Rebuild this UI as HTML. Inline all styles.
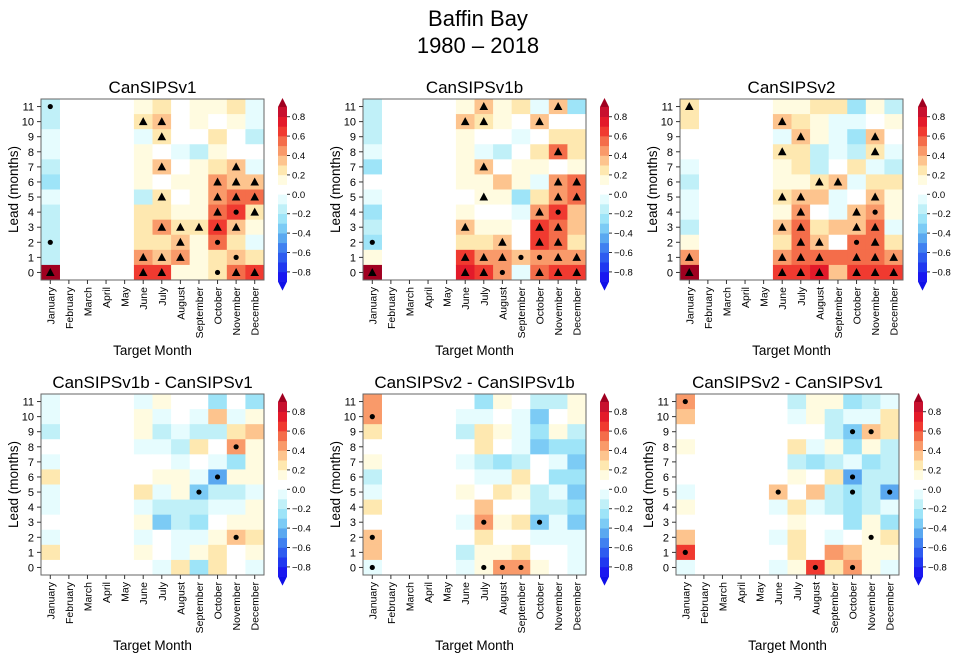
<!DOCTYPE html>
<html><head><meta charset="utf-8">
<style>
body{margin:0;background:#fff;width:957px;height:658px;overflow:hidden}
svg{display:block;font-family:"Liberation Sans","DejaVu Sans",sans-serif}
</style></head>
<body>
<svg id="fig" width="957" height="658" xmlns="http://www.w3.org/2000/svg">
<text x="478" y="26" text-anchor="middle" font-size="22">Baffin Bay</text>
<text x="478" y="53" text-anchor="middle" font-size="22">1980 – 2018</text>
</svg>
<script>
const months = ["January","February","March","April","May","June","July","August","September","October","November","December"];
const dataCols = [0,5,6,7,8,9,10,11];
const leads = [0,1,2,3,4,5,6,7,8,9,10,11];
const cbTicks = [-0.8,-0.6,-0.4,-0.2,0.0,0.2,0.4,0.6,0.8];
const panelTitles = ["CanSIPSv1","CanSIPSv1b","CanSIPSv2","CanSIPSv1b - CanSIPSv1","CanSIPSv2 - CanSIPSv1b","CanSIPSv2 - CanSIPSv1"];
// values rows from lead 11 (top) down to lead 0; columns Jan, Jun..Dec
const p1Values = [
[-0.15,0.15,0.25,0,0.1,0.1,0.25,-0.05],
[-0.2,0.25,0.3,0,0.1,0,0.1,-0.1],
[-0.05,-0.1,0.25,0,0,0.25,0,-0.2],
[-0.05,0.1,0,-0.1,-0.2,0.1,0,0],
[-0.15,0.1,0.3,0,0.1,0.25,0.3,-0.05],
[-0.25,0.1,0,0.1,0.1,0.45,0.35,0.35],
[-0.05,-0.2,0.2,0,0.1,0.45,0.55,0.55],
[-0.15,0.2,0.2,0.1,0.1,0.55,0.65,0.25],
[-0.2,0.2,0.4,0.25,0.25,0.65,0.35,0.1],
[-0.15,0.2,0.2,0.35,0.1,0.55,0.2,-0.1],
[-0.15,0.4,0.35,0.4,0.1,0.2,0.35,0.25],
[0.95,0.65,0.65,0.1,0.1,0.2,0.5,0.65]];
const p1Marks = ["d.......",".tt.....","..t.....","........","..t...t.",".....ttt","..t..ttt",".....tdt","..ttttt.","d..t.d..",".ttt..d.","ttt..dtt"];
const p2Values = [
[-0.2,0.1,0.3,0.1,0.25,-0.05,0.35,-0.3],
[-0.2,0.3,0.2,0.1,0,0.3,0,0],
[-0.2,0.1,0,0,-0.05,0,0.2,0.2],
[-0.05,0.1,-0.1,-0.2,0,0.25,0.55,0.2],
[-0.25,0.1,0.35,0,0.1,0.1,0,0.1],
[0,0.1,0.1,0.35,0.1,-0.05,0.45,0.55],
[-0.05,0,0.15,0.1,-0.3,0.25,0.45,0.55],
[-0.25,0.1,0,0,-0.05,0.45,0.65,0.35],
[-0.2,0.35,0.1,0.1,0,0.65,0.55,0.35],
[-0.25,0.2,0.2,0.35,0,0.65,0.55,0.2],
[0.1,0.65,0.45,0.45,0.3,0.45,0.45,0.45],
[0.95,0.75,0.65,0.4,-0.05,0.55,0.65,0.65]];
const p2Marks = ["..t...t.",".tt..t..","........","......t.","..t.....","......tt","..t...tt",".....td.",".t...tt.","d..t.tt.",".tttddtt","tttd.ttt"];
const p3Values = [
[0.25,0.1,0.1,0.2,0.2,-0.25,0.1,-0.2],
[0.25,0.35,0.2,0.1,-0.05,-0.05,0,0.1],
[0,-0.05,0.35,0.1,-0.05,-0.25,0.35,0],
[0,0.25,0.2,-0.2,-0.05,-0.2,0.2,-0.05],
[-0.05,0.1,0.2,-0.2,0,0.2,-0.05,-0.2],
[-0.2,0.1,0.1,0.25,0.35,-0.05,0.2,0.2],
[-0.05,0.25,0.35,0.35,-0.05,0,0.35,0.1],
[-0.05,0.1,0.45,0,-0.05,0.3,0.45,0.1],
[-0.2,0.35,0.55,0.2,0.3,0.35,0.55,-0.05],
[0.1,0.25,0.55,0.35,0,0.55,0.55,0.25],
[0.4,0.45,0.55,0.55,0.55,0.55,0.55,0.45],
[0.95,0.65,0.65,0.75,0.3,0.65,0.65,0.65]];
const p3Marks = ["t.......",".t......","..t...t.",".t....t.","........","...tt...",".tt...t.","..t..td.",".tt..tt.","..tt.dt.","tttt.ttt","tttt.ttt"];
const p4Values = [
[-0.1,-0.1,0.1,0,0,-0.25,0,-0.25],
[-0.1,0.1,-0.05,0,-0.05,0.3,-0.05,0.1],
[-0.2,0.1,-0.2,-0.05,-0.15,-0.15,0.2,0.3],
[0,-0.05,-0.05,-0.2,0.2,0,0.45,0.1],
[-0.05,0,0,-0.05,0,-0.05,-0.3,0.1],
[0.2,0,0.1,0.1,-0.05,-0.5,0.1,0.1],
[-0.05,0.2,-0.05,0.1,-0.35,-0.2,-0.15,-0.05],
[-0.05,-0.05,-0.15,-0.15,-0.15,-0.05,-0.05,0.1],
[0,0.1,-0.35,-0.15,-0.25,0,0.1,0.1],
[-0.05,-0.05,0,-0.05,-0.05,0.1,0.3,0.2],
[0.2,0.1,0,-0.05,0.1,0.2,0,0.1],
[0,0,-0.1,0.2,-0.25,0.2,0,-0.05]];
const p4Marks = ["........","........","........","......d.","........",".....d..","....d...","........","........","......d.","........","........"];
const p5Values = [
[0.4,0,-0.25,0.1,0,-0.15,-0.2,0.1],
[0.4,-0.05,-0.05,0,-0.05,-0.35,0,0.1],
[0.25,-0.15,0.2,0.1,-0.05,-0.25,0.1,-0.15],
[0,0,0.2,0,-0.05,-0.4,-0.25,-0.25],
[0.1,-0.05,-0.15,-0.25,-0.15,0,-0.05,-0.35],
[-0.15,0,-0.05,-0.05,0.25,0,-0.25,-0.25],
[-0.05,0.1,0,0.25,0.1,-0.2,-0.05,-0.35],
[0.25,0,0.3,0,0,-0.2,-0.2,-0.25],
[0,-0.05,0.4,0.1,0.25,-0.35,-0.05,-0.35],
[0.3,0,0.25,0,0,-0.05,-0.05,-0.05],
[0.3,-0.2,0.1,0.1,0.25,0,0,-0.05],
[-0.05,-0.05,0.1,0.45,0.45,0.1,0,-0.05]];
const p5Marks = ["........","d.......","........","........","........","........","........","........","..d..d..","d.......","........","d.ddd..."];
const p6Values = [
[0.4,0,-0.15,0.1,0.1,-0.3,-0.15,-0.05],
[0.3,0,-0.05,0.1,-0.15,-0.05,-0.05,0.25],
[0,0,0,0,-0.15,-0.4,0.35,0.2],
[0.1,0,0.25,-0.05,0.1,-0.3,0.1,-0.15],
[0,0,-0.15,-0.25,-0.15,-0.05,-0.3,-0.15],
[0,0,0.1,0,0.25,-0.5,-0.2,-0.15],
[-0.05,0.3,0,0.3,-0.2,-0.3,-0.15,-0.45],
[0.1,-0.05,0.25,-0.05,-0.2,-0.25,-0.2,-0.05],
[0,0,0.1,0,0,-0.25,0.1,-0.25],
[0.3,-0.05,0.25,0,-0.05,0,0.1,0.25],
[0.65,0,0.25,0,0.45,0.3,0.1,0.1],
[-0.05,-0.05,0.1,0.65,0.2,0.45,0.1,-0.05]];
const p6Marks = ["d.......","........",".....dd.","........","........",".....d..",".d...d.d","........","........","......d.","d.......","...d.d.."];

const allValues=[p1Values,p2Values,p3Values,p4Values,p5Values,p6Values];
const allMarks=[p1Marks,p2Marks,p3Marks,p4Marks,p5Marks,p6Marks];
const layout=[
 {x0:41,x1:264,y0:99,y1:280,cb:278},
 {x0:363,x1:586,y0:99,y1:280,cb:600},
 {x0:680,x1:903,y0:99,y1:280,cb:918},
 {x0:41,x1:264,y0:394,y1:575,cb:278},
 {x0:363,x1:586,y0:394,y1:575,cb:600},
 {x0:676,x1:899,y0:394,y1:575,cb:914}];
// band colors from -0.9 up to 0.9 (18 bands)
const bands=["#1a18f0","#2038f0","#2e5cf0","#4080f0","#5aa8f0","#7ccbf5","#9ee4f8","#c0f0f8","#e6fcfe","#ffffff","#fffbe0","#fee8b0","#fdc48e","#f99a6a","#f46d4a","#f03a30","#e31a2a","#c8102e"];
const overColor="#a00020", underColor="#1010e8";
function colorOf(v){const i=Math.floor(v*10+1e-6)+9; if(i>17)return overColor; if(i<0)return underColor; return bands[i];}

const NS="http://www.w3.org/2000/svg";
const svg=document.getElementById('fig');
function mk(tag,attrs,parent){const e=document.createElementNS(NS,tag);for(const k in attrs)e.setAttribute(k,attrs[k]);(parent||svg).appendChild(e);return e;}

layout.forEach((L,p)=>{
  const g=mk('g',{});
  
  
  const cw=(L.x1-L.x0)/12, ch=(L.y1-L.y0)/12;
  const xOf=m=>L.x0+m*cw;
  const yOf=l=>L.y1-(l+1)*ch;
  const vals=allValues[p], marks=allMarks[p];
  vals.forEach((row,ri)=>{
    const lead=11-ri;
    row.forEach((v,ci)=>{
      const m=dataCols[ci];
      const r=mk('rect',{x:xOf(m),y:yOf(lead),width:cw+0.4,height:ch+0.4,fill:colorOf(v)},g);
      
      
      const mkc=marks[ri][ci];
      const cx=xOf(m)+cw/2, cy=yOf(lead)+ch/2;
      if(mkc==='t'){
        const t=mk('polygon',{points:`${cx},${cy-4.5} ${cx-4.3},${cy+3.5} ${cx+4.3},${cy+3.5}`,fill:'#000'},g);
        
        
      } else if(mkc==='d'){
        const c=mk('circle',{cx:cx,cy:cy,r:2.6,fill:'#000'},g);
        
        
      }
    });
  });
  const fr=mk('rect',{x:L.x0,y:L.y0,width:L.x1-L.x0,height:L.y1-L.y0,fill:'none',stroke:'#666','stroke-width':1},g);
  
  
  const tt=mk('text',{x:(L.x0+L.x1)/2,y:L.y0-6,'text-anchor':'middle','font-size':17},g);
  tt.textContent=panelTitles[p];
  
  
  leads.forEach(l=>{
    const y=yOf(l)+ch/2;
    mk('line',{x1:L.x0-4,x2:L.x0,y1:y,y2:y,stroke:'#333'},g);
    const t=mk('text',{x:L.x0-7,y:y+4,'text-anchor':'end','font-size':11},g);
    t.textContent=l;
    
    
  });
  months.forEach((mn,m)=>{
    const x=xOf(m)+cw/2;
    mk('line',{x1:x,x2:x,y1:L.y1,y2:L.y1+4,stroke:'#333'},g);
    const t=mk('text',{x:0,y:0,'text-anchor':'end','font-size':10.5,transform:`translate(${x+4},${L.y1+7}) rotate(-90)`},g);
    t.textContent=mn;
    
    
  });
  const xt=mk('text',{x:(L.x0+L.x1)/2,y:L.y1+75,'text-anchor':'middle','font-size':13.5},g);
  xt.textContent='Target Month';
  
  
  const yt=mk('text',{x:0,y:0,'text-anchor':'middle','font-size':13.5,transform:`translate(${L.x0-23},${(L.y0+L.y1)/2}) rotate(-90)`},g);
  yt.textContent='Lead (months)';
  
  
  // colorbar
  const cg=mk('g',{},g);
  
  
  const cbTop=L.y0+8, bh=9.7, cbw=9;
  const cbY=v=>cbTop+(0.9-v)/0.1*bh;
  bands.forEach((c,i)=>{
    const lo=-0.9+i*0.1;
    mk('rect',{x:L.cb,y:cbY(lo+0.1),width:cbw,height:bh+0.3,fill:c},cg);
  });
  mk('polygon',{points:`${L.cb},${cbTop} ${L.cb+cbw/2},${cbTop-9} ${L.cb+cbw},${cbTop}`,fill:overColor},cg);
  mk('polygon',{points:`${L.cb},${cbY(-0.9)} ${L.cb+cbw/2},${cbY(-0.9)+9} ${L.cb+cbw},${cbY(-0.9)}`,fill:underColor},cg);
  cbTicks.forEach(v=>{
    const y=cbY(v);
    mk('line',{x1:L.cb+cbw,x2:L.cb+cbw+3,y1:y,y2:y,stroke:'#333'},cg);
    const t=mk('text',{x:L.cb+cbw+5,y:y+3.5,'font-size':9.5},cg);
    t.textContent=(v<0?'\u22120':'')+(v<0?Math.abs(v).toFixed(1).slice(1):v.toFixed(1));
    
    
  });
});
</script>
</body></html>
